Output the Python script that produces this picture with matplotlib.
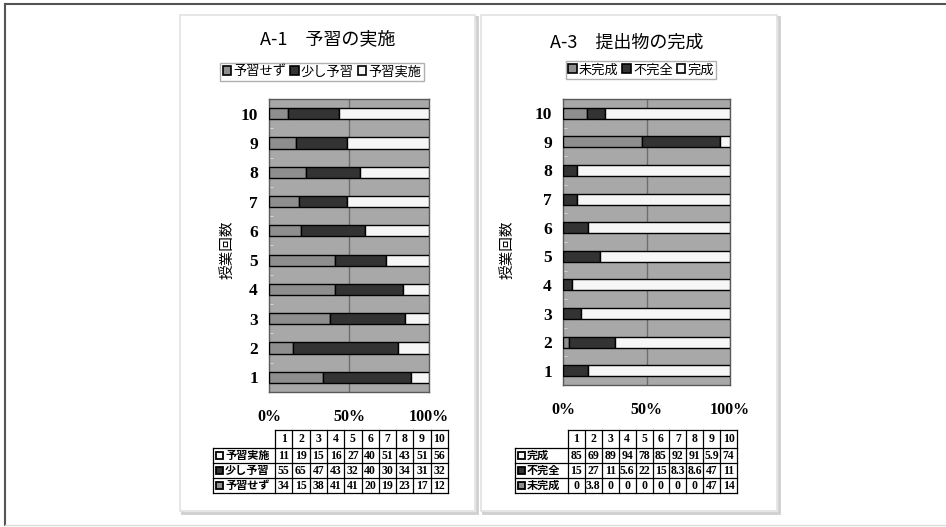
import matplotlib
matplotlib.use("Agg")
import matplotlib.pyplot as plt
from matplotlib.patches import Rectangle, Patch

plt.rcParams['font.family'] = ['Noto Sans CJK JP', 'DejaVu Sans']

# データ
lessons = [1, 2, 3, 4, 5, 6, 7, 8, 9, 10]

# A-1 予習の実施 (%)
yoshu_nashi = [34, 15, 38, 41, 41, 20, 19, 23, 17, 12]
yoshu_sukoshi = [55, 65, 47, 43, 32, 40, 30, 34, 31, 32]
yoshu_jisshi = [11, 19, 15, 16, 27, 40, 51, 43, 51, 56]
labels_a1 = ['予習せず', '少し予習', '予習実施']

# A-3 提出物の完成 (%)
mikansei = [0, 3.8, 0, 0, 0, 0, 0, 0, 47, 14]
fukanzen = [15, 27, 11, 5.6, 22, 15, 8.3, 8.6, 47, 11]
kansei = [85, 69, 89, 94, 78, 85, 92, 91, 5.9, 74]
labels_a3 = ['未完成', '不完全', '完成']

xticks = [0, 50, 100]
xtick_labels = ['0%', '50%', '100%']

colors = ['#8e8e8e', '#333333', '#f6f6f6']
bg = '#a8a8a8'

W, H = 946, 527
fig = plt.figure(figsize=(W / 100, H / 100), dpi=100)


def fx(x):
    return x / W


def fy(y):
    return 1 - y / H


def px_axes(x0, y0, x1, y1):
    return [fx(x0), fy(y1), fx(x1) - fx(x0), fy(y0) - fy(y1)]


# 外枠とパネル枠
frame = fig.add_axes([0, 0, 1, 1])
frame.set_xlim(0, W)
frame.set_ylim(H, 0)
frame.axis('off')
frame.plot([5, 5], [4, 525], color='#555555', lw=1.5)
frame.plot([5, W], [4, 4], color='#555555', lw=1.5)
frame.plot([5, W], [525, 525], color='#dddddd', lw=1)
for (x0, y0, x1, y1) in [(180, 15, 475, 511), (481, 15, 777, 511)]:
    frame.add_patch(Rectangle((x0 + 1.5, y0 + 1.5), x1 - x0, y1 - y0,
                              fill=False, ec='#cfcfcf', lw=2))
    frame.add_patch(Rectangle((x0, y0), x1 - x0, y1 - y0,
                              fill=True, fc='white', ec='#e2e2e2', lw=1.2))


def draw_chart(rect, series, labels, title, title_xy, leg_center, ylab_x):
    ax = fig.add_axes(rect)
    ax.set_facecolor(bg)
    # 100%積み上げ
    totals = [sum(v) for v in zip(*series)]
    left = [0] * len(lessons)
    for vals, c in zip(series, colors):
        pct = [v / t * 100 for v, t in zip(vals, totals)]
        ax.barh(lessons, pct, left=left, height=0.38, color=c,
                edgecolor='black', linewidth=1, zorder=3)
        left = [a + b for a, b in zip(left, pct)]
    ax.set_xlim(0, 100)
    ax.set_ylim(0.5, 10.5)
    ax.axvline(50, color='#6e6e6e', lw=1, zorder=1)
    ax.set_xticks(xticks)
    ax.set_xticklabels(xtick_labels, family='Liberation Serif',
                       fontweight='bold', fontsize=11.5)
    ax.set_yticks(lessons)
    ax.set_yticklabels([str(v) for v in lessons], family='Liberation Serif',
                       fontweight='bold', fontsize=12.5)
    ax.set_yticks([v + 0.5 for v in lessons[:-1]], minor=True)
    ax.tick_params(axis='y', which='major', length=0, pad=8)
    ax.tick_params(axis='y', which='minor', length=3, direction='in',
                   color='#dcdcdc')
    ax.tick_params(axis='x', length=0, pad=12)
    for s in ax.spines.values():
        s.set_color('#5a5a5a')
        s.set_linewidth(1)
    fig.text(fx(title_xy[0]), fy(title_xy[1]), title, ha='center',
             va='center', fontsize=13)
    fig.text(fx(ylab_x), fy(250), '授業回数', rotation=90, ha='center',
             va='center', fontsize=10.5)
    handles = [Patch(fc=c, ec='black', lw=1.2) for c in colors]
    fig.legend(handles, labels, loc='center',
               bbox_to_anchor=(fx(leg_center[0]), fy(leg_center[1])),
               ncol=3, fontsize=9.5, handlelength=0.65, handleheight=0.65,
               handletextpad=0.15, columnspacing=0.3, borderpad=0.2,
               fancybox=False, edgecolor='#b0b0b0', framealpha=1)
    return ax


def draw_table(x_label, x_num, col_w, rows, row_labels, row_colors):
    y_top, hdr_h, row_h = 430, 18, 15
    x_end = x_num + col_w * len(lessons)
    y_end = y_top + hdr_h + row_h * len(rows)
    tax = fig.add_axes([0, 0, 1, 1])
    tax.set_xlim(0, W)
    tax.set_ylim(H, 0)
    tax.axis('off')
    kw = dict(color='black', lw=0.9)
    # 横線
    tax.plot([x_num, x_end], [y_top, y_top], **kw)
    for r in range(len(rows) + 1):
        yy = y_top + hdr_h + row_h * r
        tax.plot([x_label, x_end], [yy, yy], **kw)
    # 縦線
    tax.plot([x_label, x_label], [y_top + hdr_h, y_end], **kw)
    for c in range(len(lessons) + 1):
        xx = x_num + col_w * c
        tax.plot([xx, xx], [y_top, y_end], **kw)
    for c, lesson in enumerate(lessons):
        tax.text(x_num + col_w * (c + 0.5), y_top + hdr_h / 2, str(lesson),
                 ha='center', va='center', family='Liberation Serif',
                 fontweight='bold', fontsize=8.5)
    for r, (vals, lab, col) in enumerate(zip(rows, row_labels, row_colors)):
        yc = y_top + hdr_h + row_h * (r + 0.5)
        tax.add_patch(Rectangle((x_label + 3, yc - 3.5), 7, 7, fc=col,
                                ec='black', lw=1.3))
        tax.text(x_label + 12, yc, lab, ha='left', va='center',
                 fontsize=8, fontweight='bold')
        for c, v in enumerate(vals):
            tax.text(x_num + col_w * (c + 0.5), yc + 0.5, f"{v:g}",
                     ha='center', va='center', family='Liberation Serif',
                     fontweight='bold', fontsize=8.5)


draw_chart(px_axes(269, 99, 429, 392),
           [yoshu_nashi, yoshu_sukoshi, yoshu_jisshi], labels_a1,
           'A-1　予習の実施', (328, 39), (322, 72), 228)
draw_chart(px_axes(563, 99, 730, 385),
           [mikansei, fukanzen, kansei], labels_a3,
           'A-3　提出物の完成', (627, 43), (641, 70), 508)

draw_table(213, 275, 17.3,
           [yoshu_jisshi, yoshu_sukoshi, yoshu_nashi],
           ['予習実施', '少し予習', '予習せず'],
           [colors[2], colors[1], colors[0]])
draw_table(515, 568, 16.9,
           [kansei, fukanzen, mikansei],
           ['完成', '不完全', '未完成'],
           [colors[2], colors[1], colors[0]])

fig.savefig('out.png', dpi=100)
